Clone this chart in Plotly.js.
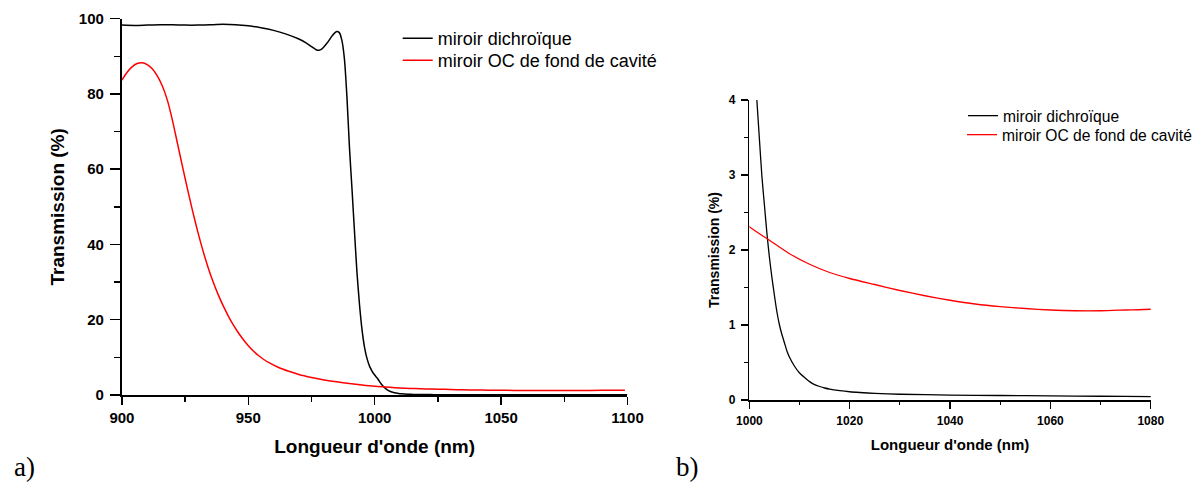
<!DOCTYPE html>
<html>
<head>
<meta charset="utf-8">
<script src="https://cdn.plot.ly/plotly-3.0.1.min.js"></script>
<style>
html, body { margin: 0; padding: 0; background: #ffffff; }
#chart { width: 1197px; height: 482px; }
</style>
</head>
<body>
<div id="chart"></div>
<script>
// ---- Data (wavelength in nm, transmission in %) ----
const seriesNames = ['miroir dichroïque', 'miroir OC de fond de cavité'];
const panelLabels = ['a)', 'b)'];
const xTitleText = "Longueur d'onde (nm)";
const yTitleText = 'Transmission (%)';

const wlDichroic = [900, 905, 910, 915, 920, 925, 930, 935, 940, 945, 950, 955, 960, 965, 970, 973, 975, 977, 978, 979, 980, 981, 982, 983, 984, 985, 986, 987, 988, 989, 990, 991, 992, 993, 994, 995, 996, 997, 998, 999, 1000, 1001, 1001.5, 1002, 1002.5, 1003, 1003.5, 1004, 1004.5, 1005, 1005.5, 1006, 1006.5, 1007, 1007.5, 1008, 1009, 1010, 1011, 1012, 1013, 1014, 1015, 1016, 1018, 1020, 1022, 1025, 1030, 1040, 1050, 1060, 1070, 1080, 1090, 1100];
const tDichroic = [98.3, 98.2, 98.3, 98.4, 98.4, 98.3, 98.3, 98.4, 98.5, 98.4, 98.1, 97.6, 96.9, 95.9, 94.6, 93.5, 92.6, 91.7, 91.6, 91.9, 92.6, 93.4, 94.3, 95.3, 96.1, 96.6, 96.3, 94.3, 89.5, 79.5, 66, 55, 43.5, 32.5, 24, 17.3, 12.6, 9.6, 7.6, 6.3, 5.3, 4.5, 3.99, 3.48, 2.98, 2.6, 2.22, 1.9, 1.63, 1.39, 1.17, 1.0, 0.87, 0.76, 0.65, 0.57, 0.45, 0.36, 0.3, 0.245, 0.205, 0.18, 0.16, 0.145, 0.125, 0.11, 0.1, 0.088, 0.077, 0.066, 0.06, 0.055, 0.05, 0.046, 0.043, 0.04];

const wlOC = [900, 902, 904, 906, 908, 910, 912, 914, 916, 918, 920, 922, 924, 926, 928, 930, 932, 934, 936, 938, 940, 942, 944, 946, 948, 950, 952, 954, 956, 958, 962, 966, 970, 975, 980, 985, 990, 995, 1000, 1004, 1008, 1012, 1016, 1020, 1025, 1030, 1035, 1040, 1045, 1050, 1055, 1060, 1065, 1070, 1075, 1080, 1090, 1099];
const tOC = [83.7, 85.7, 87.2, 88.1, 88.3, 87.8, 86.7, 84.8, 82.1, 78.3, 73.0, 66.8, 60.6, 54.6, 48.8, 43.4, 38.5, 34.1, 30.2, 26.8, 23.8, 21.1, 18.7, 16.6, 14.75, 13.1, 11.7, 10.5, 9.5, 8.65, 7.3, 6.3, 5.45, 4.65, 4.0, 3.5, 3.05, 2.65, 2.31, 2.13, 1.95, 1.81, 1.7, 1.62, 1.54, 1.46, 1.39, 1.33, 1.28, 1.245, 1.22, 1.20, 1.19, 1.19, 1.20, 1.21, 1.25, 1.28];

// ---- Styling ----
const FONT = 'Liberation Sans, Arial, sans-serif';
const BLACK = '#000000';
const RED = '#ff0000';
const SERIF = 'Liberation Serif, Times New Roman, serif';

function lineTrace(x, y, name, color, width, xa, ya, legendId) {
  return { x: x, y: y, name: name, type: 'scatter', mode: 'lines',
    xaxis: xa, yaxis: ya, legend: legendId,
    line: { color: color, width: width, shape: 'spline', smoothing: 0.6 } };
}

const traces = [
  lineTrace(wlDichroic, tDichroic, seriesNames[0], BLACK, 1.5, 'x', 'y', 'legend'),
  lineTrace(wlOC, tOC, seriesNames[1], RED, 1.5, 'x', 'y', 'legend2'),
  lineTrace(wlDichroic, tDichroic, seriesNames[0], BLACK, 1.3, 'x2', 'y2', 'legend3'),
  lineTrace(wlOC, tOC, seriesNames[1], RED, 1.3, 'x2', 'y2', 'legend4')
];

function axisBase(o) {
  return Object.assign({
    showline: true, linecolor: BLACK, showgrid: false, zeroline: false,
    ticks: 'outside', tickcolor: BLACK, fixedrange: true
  }, o);
}

function legendBox(xPx, topPx, size) {
  return { x: xPx / 1197, xanchor: 'left', y: 1 - topPx / 482, yanchor: 'top',
    bgcolor: 'rgba(0,0,0,0)', borderwidth: 0,
    font: { family: FONT, size: size, color: BLACK } };
}

const layout = {
  width: 1197, height: 482,
  margin: { l: 0, r: 0, t: 0, b: 0 },
  paper_bgcolor: '#ffffff', plot_bgcolor: 'rgba(0,0,0,0)',
  font: { family: FONT, color: BLACK },
  showlegend: true,
  xaxis: axisBase({
    domain: [122 / 1197, 628 / 1197], anchor: 'y', range: [900, 1100],
    tick0: 900, dtick: 50, ticklen: 8, tickwidth: 1.5, linewidth: 2,
    minor: { dtick: 25, ticks: 'outside', ticklen: 5, tickwidth: 1.5, tickcolor: BLACK },
    tickfont: { family: FONT, size: 15, weight: 'bold', color: BLACK },
    ticklabelstandoff: 0,
    title: { text: xTitleText, standoff: 15, font: { family: FONT, size: 19, weight: 'bold', color: BLACK } }
  }),
  yaxis: axisBase({
    domain: [1 - 395 / 482, 1 - 18.7 / 482], anchor: 'x', range: [0, 100],
    tick0: 0, dtick: 20, ticklen: 10, tickwidth: 1.5, linewidth: 2,
    minor: { dtick: 10, ticks: 'outside', ticklen: 6, tickwidth: 1.5, tickcolor: BLACK },
    tickfont: { family: FONT, size: 15, weight: 'bold', color: BLACK },
    ticklabelstandoff: 3,
    title: { text: yTitleText, standoff: 9, font: { family: FONT, size: 19, weight: 'bold', color: BLACK } }
  }),
  xaxis2: axisBase({
    domain: [750 / 1197, 1151.7 / 1197], anchor: 'y2', range: [1000, 1080],
    tick0: 1000, dtick: 20, ticklen: 7, tickwidth: 1.2, linewidth: 1.5,
    minor: { dtick: 10, ticks: 'outside', ticklen: 3.5, tickwidth: 1.2, tickcolor: BLACK },
    tickfont: { family: FONT, size: 12, weight: 'bold', color: BLACK },
    ticklabelstandoff: 2,
    title: { text: xTitleText, standoff: 12, font: { family: FONT, size: 15, weight: 'bold', color: BLACK } }
  }),
  yaxis2: axisBase({
    domain: [1 - 400 / 482, 1 - 100 / 482], anchor: 'x2', range: [0, 4],
    tick0: 0, dtick: 1, ticklen: 7, tickwidth: 1.2, linewidth: 1.5,
    minor: { dtick: 0.5, ticks: 'outside', ticklen: 3.5, tickwidth: 1.2, tickcolor: BLACK },
    tickfont: { family: FONT, size: 12, weight: 'bold', color: BLACK },
    ticklabelstandoff: 3,
    title: { text: yTitleText, standoff: 6, font: { family: FONT, size: 14, weight: 'bold', color: BLACK } }
  }),
  legend: legendBox(397.7, 20, 18),
  legend2: legendBox(397.7, 42, 18),
  legend3: legendBox(963, 99, 15.6),
  legend4: legendBox(963, 118, 15.6),
  annotations: [
    { text: panelLabels[0], xref: 'paper', yref: 'paper', x: 25 / 1197, y: 1 - 467 / 482,
      xanchor: 'center', yanchor: 'middle', showarrow: false,
      font: { family: SERIF, size: 27, color: BLACK } },
    { text: panelLabels[1], xref: 'paper', yref: 'paper', x: 688 / 1197, y: 1 - 467 / 482,
      xanchor: 'center', yanchor: 'middle', showarrow: false,
      font: { family: SERIF, size: 27, color: BLACK } }
  ]
};

Plotly.newPlot('chart', traces, layout, { staticPlot: true, displayModeBar: false });
</script>
</body>
</html>
